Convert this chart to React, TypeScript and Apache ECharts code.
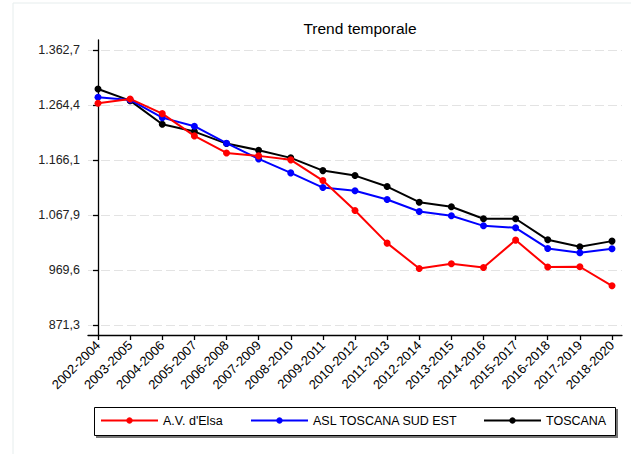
import React, { useEffect, useRef } from "react";
import * as echarts from "echarts";

const categories = [
  "2002-2004", "2003-2005", "2004-2006", "2005-2007", "2006-2008", "2007-2009",
  "2008-2010", "2009-2011", "2010-2012", "2011-2013", "2012-2014", "2013-2015",
  "2014-2016", "2015-2017", "2016-2018", "2017-2019", "2018-2020",
];
const avElsa = [1267.6, 1275.2, 1249.0, 1209.2, 1178.8, 1173.5, 1166.4, 1129.4, 1075.8, 1017.6, 972.3, 980.7, 974.1, 1023.0, 974.8, 975.4, 941.4];
const aslSudEst = [1278.2, 1273.5, 1241.9, 1226.5, 1196.2, 1168.1, 1143.1, 1116.9, 1111.3, 1095.5, 1074.1, 1066.4, 1048.5, 1045.0, 1008.1, 1000.3, 1007.5];
const toscana = [1293.1, 1272.2, 1230.1, 1216.9, 1195.5, 1183.7, 1169.9, 1147.2, 1138.3, 1118.7, 1090.8, 1082.5, 1061.1, 1061.1, 1023.5, 1011.0, 1021.2];
const yTicks = [871.3, 969.6, 1067.9, 1166.1, 1264.4, 1362.7];
const seriesNames = ["A.V. d'Elsa", "ASL TOSCANA SUD EST", "TOSCANA"];
const seriesColors = ["#ff0000", "#0000ff", "#000000"];

const FONT = "'Liberation Sans', Arial, sans-serif";

function fmtIt(v: number): string {
  const s = v.toFixed(1);
  const [ip, dp] = s.split(".");
  const withSep = ip.replace(/\B(?=(\d{3})+(?!\d))/g, ".");
  return withSep + "," + dp;
}

export default function App() {
  const ref = useRef<HTMLDivElement>(null);
  useEffect(() => {
    if (!ref.current) return;
    const chart = echarts.init(ref.current, undefined, { renderer: "svg" });
    const dataSets = [avElsa, aslSudEst, toscana];
    const catIdx = categories.map((_, i) => i);
    const legendLefts = [100, 250, 483];
    chart.setOption({
      animation: false,
      backgroundColor: "#ffffff",
      textStyle: { fontFamily: FONT },
      title: {
        text: "Trend temporale",
        left: 355,
        textAlign: "center",
        top: 15,
        textStyle: { fontSize: 15.5, fontWeight: "normal", color: "#000", fontFamily: FONT },
      },
      grid: { left: 88, right: 9, top: 40, bottom: 119, containLabel: false },
      xAxis: {
        type: "value",
        min: -0.3116,
        max: 16.3116,
        axisLine: { show: true, lineStyle: { color: "#000", width: 1.3 } },
        axisTick: { show: true, customValues: catIdx, length: 5, lineStyle: { color: "#000", width: 1.3 } },
        axisLabel: {
          show: true,
          customValues: catIdx,
          rotate: 45,
          margin: 8,
          fontSize: 13,
          color: "#000",
          fontFamily: FONT,
          formatter: (v: number) => categories[Math.round(v)] ?? "",
        },
        splitLine: { show: false },
      },
      yAxis: {
        type: "value",
        min: 853.45,
        max: 1380.55,
        axisLine: { show: true, lineStyle: { color: "#000", width: 1.3 } },
        axisTick: { show: true, customValues: yTicks, length: 5, lineStyle: { color: "#000", width: 1.3 } },
        axisLabel: {
          show: true,
          customValues: yTicks,
          margin: 8,
          fontSize: 12.5,
          color: "#222",
          fontFamily: FONT,
          formatter: (v: number) => fmtIt(v),
        },
        splitLine: { show: true, lineStyle: { color: "#e3e3e3", type: [9, 4], width: 1 } },
      },
      legend: seriesNames.map((n, i) => ({
        data: [n],
        left: legendLefts[i],
        top: 414,
        padding: 0,
        itemWidth: 57,
        itemHeight: 8,
        itemTextGap: 9,
        textStyle: { fontSize: 12.5, color: "#000", fontFamily: FONT },
        selectedMode: false,
      })),
      graphic: [
        {
          type: "rect",
          shape: { x: 13, y: 3, width: 640, height: 480 },
          style: { fill: "none", stroke: "#e6eded", lineWidth: 1 },
          silent: true,
          z: -10,
        },
        {
          type: "rect",
          shape: { x: 96, y: 409, width: 522, height: 29 },
          style: { fill: "#777", stroke: "none" },
          silent: true,
          z: -2,
        },
        {
          type: "rect",
          shape: { x: 94.5, y: 407.5, width: 521, height: 28 },
          style: { fill: "#fff", stroke: "#000", lineWidth: 1 },
          silent: true,
          z: -1,
        },
      ],
      series: dataSets.map((d, i) => ({
        name: seriesNames[i],
        type: "line",
        data: d.map((v, j) => [j, v]),
        symbol: "circle",
        symbolSize: 7,
        showSymbol: true,
        lineStyle: { color: seriesColors[i], width: 2 },
        itemStyle: { color: seriesColors[i] },
        z: 2 + (2 - i),
      })),
    });
    return () => chart.dispose();
  }, []);
  return (
    <div
      ref={ref}
      style={{ position: "absolute", left: 0, top: 0, width: 631, height: 454 }}
    />
  );
}
